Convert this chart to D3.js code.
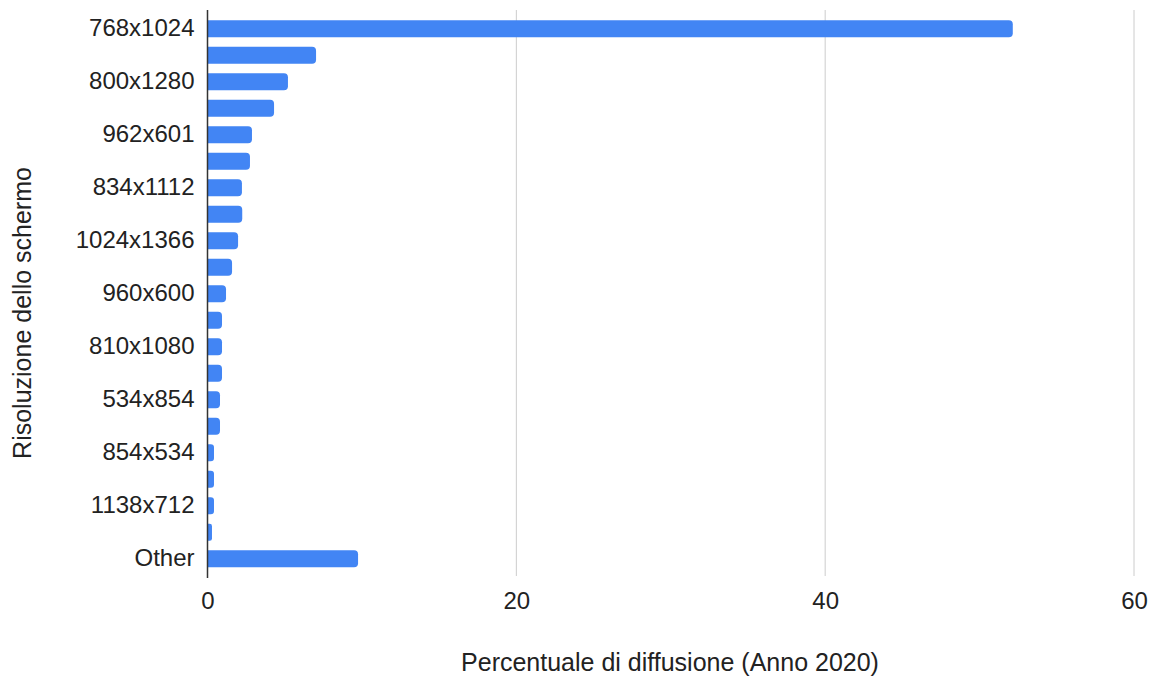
<!DOCTYPE html>
<html>
<head>
<meta charset="utf-8">
<script src="https://cdn.jsdelivr.net/npm/d3@7"></script>
<style>
  body { margin: 0; background: #fff; }
  text { font-family: "Liberation Sans", Arial, sans-serif; fill: #222; }
</style>
</head>
<body>
<svg id="chart" width="1150" height="679"></svg>
<script>
// only every other category label is shown in the picture
const resolutions = ["768x1024", "1024x768", "800x1280", "1280x800", "962x601", "601x962",
                     "834x1112", "1112x834", "1024x1366", "1366x1024", "960x600", "600x960",
                     "810x1080", "1080x810", "534x854", "1080x1920", "854x534", "712x1138",
                     "1138x712", "480x800", "Other"]
const shares = [52.15, 7.03, 5.21, 4.31, 2.88, 2.75, 2.23, 2.25, 1.98, 1.59, 1.2,
                0.94, 0.94, 0.94, 0.81, 0.81, 0.42, 0.42, 0.42, 0.29, 9.75]
const xTicks = [0, 20, 40, 60]

const svg = d3.select("#chart")
const plotLeft = 207.5, plotRight = 1134, plotTop = 15.5, plotBottom = 572

let x = d3.scaleLinear()
          .domain([0, 60])
          .range([plotLeft, plotRight])

let y = d3.scaleBand()
          .domain(resolutions)
          .range([plotTop, plotBottom])
          .paddingInner(0.35)
          .paddingOuter(0.175)

// vertical gridlines
svg.append("g")
   .selectAll("line")
   .data(xTicks.slice(1))
   .join("line")
   .attr("x1", d => x(d)).attr("x2", d => x(d))
   .attr("y1", 10).attr("y2", 576)
   .attr("stroke", "#cccccc")
   .attr("stroke-width", 1)

// bars, rounded only at the right end
const bh = y.bandwidth(), r = 4
svg.append("g")
   .selectAll("path")
   .data(resolutions.map((c, i) => [c, shares[i]]))
   .join("path")
   .attr("fill", "#4285f4")
   .attr("d", d => {
     const x0 = x(0), x1 = x(d[1]), y0 = y(d[0])
     const rr = Math.min(r, (x1 - x0) / 2)
     return `M${x0},${y0}H${x1 - rr}Q${x1},${y0} ${x1},${y0 + rr}` +
            `V${y0 + bh - rr}Q${x1},${y0 + bh} ${x1 - rr},${y0 + bh}H${x0}Z`
   })

// zero axis line
svg.append("line")
   .attr("x1", x(0)).attr("x2", x(0))
   .attr("y1", 10).attr("y2", 578)
   .attr("stroke", "#333333")
   .attr("stroke-width", 1.5)

// y axis labels
const yAxis = svg.append("g")
   .attr("transform", "translate(" + (plotLeft - 13) + ",0)")
   .call(d3.axisLeft(y)
           .tickSize(0)
           .tickFormat((d, i) => i % 2 === 0 ? d : ""))
yAxis.select(".domain").remove()
yAxis.selectAll("text")
     .attr("x", 0)
     .style("font-size", "24px")
     .style("font-family", "Liberation Sans, Arial, sans-serif")
     .attr("fill", "#222")

// x axis labels
const xAxis = svg.append("g")
   .attr("transform", "translate(0," + 589 + ")")
   .call(d3.axisBottom(x)
           .tickValues(xTicks)
           .tickSize(0))
xAxis.select(".domain").remove()
xAxis.selectAll("text")
     .style("font-size", "24px")
     .style("font-family", "Liberation Sans, Arial, sans-serif")
     .attr("fill", "#222")

// axis titles
svg.append("text")
   .attr("x", 670)
   .attr("y", 671)
   .attr("text-anchor", "middle")
   .style("font-size", "25px")
   .text("Percentuale di diffusione (Anno 2020)")

svg.append("text")
   .attr("transform", "translate(31,313) rotate(-90)")
   .attr("text-anchor", "middle")
   .style("font-size", "25px")
   .text("Risoluzione dello schermo")
</script>
</body>
</html>
